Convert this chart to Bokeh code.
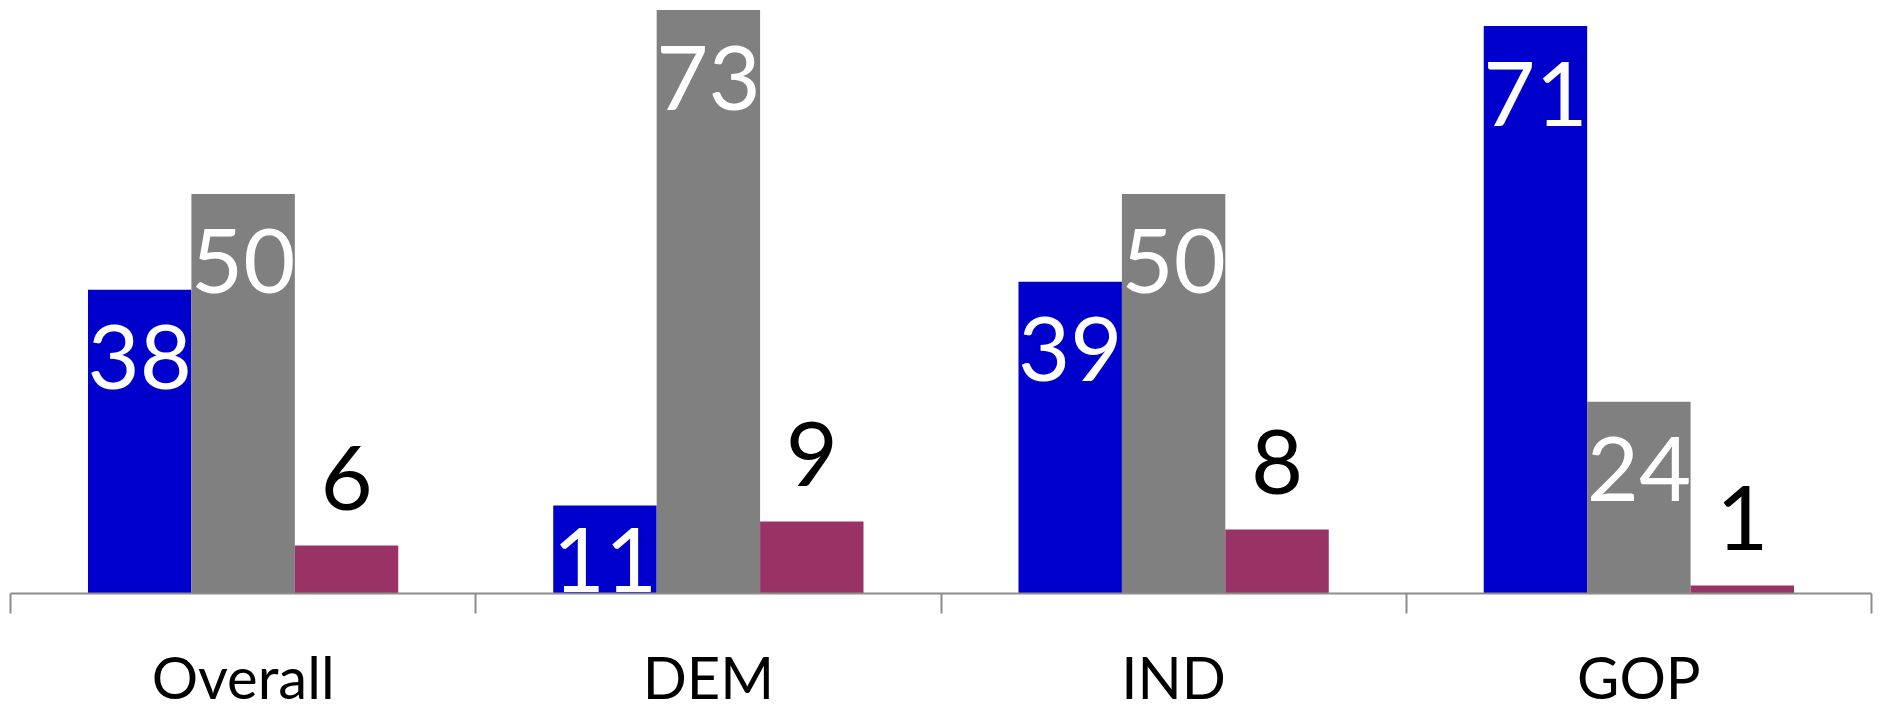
from bokeh.plotting import figure
from bokeh.models import ColumnDataSource, Range1d, FixedTicker, LinearAxis
from bokeh.core.properties import value
from bokeh.embed import file_html
from bokeh.resources import INLINE

# ---- data ----
categories = ["Overall", "DEM", "IND", "GOP"]
series_a = [38, 11, 39, 71]   # blue
series_b = [50, 73, 50, 24]   # gray
series_c = [6, 9, 8, 1]       # maroon

colors = ["#0000CC", "#808080", "#993366"]
label_colors = ["white", "white", "black"]

FRAME_W = 1861
FRAME_H = 585
Y_MAX = 73.2
PPU = FRAME_H / Y_MAX  # pixels per unit

BAR_W = 0.2223
offsets = [-BAR_W, 0.0, BAR_W]

p = figure(
    frame_width=FRAME_W, frame_height=FRAME_H,
    x_range=Range1d(0, len(categories)), y_range=Range1d(0, Y_MAX),
    output_backend="svg", toolbar_location=None,
    x_axis_type=None, y_axis_type=None,
    min_border_left=10, min_border_right=10, min_border_top=8, min_border_bottom=110,
    outline_line_color=None,
)
p.grid.visible = False
p.background_fill_color = "white"
p.border_fill_color = "white"

all_series = [series_a, series_b, series_c]
for s_idx, vals in enumerate(all_series):
    xs = [i + 0.5 + offsets[s_idx] for i in range(len(categories))]
    src = ColumnDataSource(dict(x=xs, top=vals))
    p.vbar(x="x", top="top", bottom=0, width=BAR_W, source=src,
           fill_color=colors[s_idx], line_color=None)

    texts = [str(v) for v in vals]
    if s_idx < 2:
        # inside the bar, near its top (kept within the bar)
        ys = [max(v - 67.5 / PPU, 34 / PPU) for v in vals]
    else:
        ys = [v + 67.5 / PPU for v in vals]
    lsrc = ColumnDataSource(dict(x=xs, y=ys, t=texts))
    p.text(x="x", y="y", text="t", source=lsrc,
           text_font=value("Lato"), text_font_size="90px",
           text_color=label_colors[s_idx], text_align="center",
           text_baseline="middle")

# x axis: category labels at centres, boundary ticks as minor ticks
xaxis = LinearAxis(
    ticker=FixedTicker(ticks=[i + 0.5 for i in range(len(categories))],
                       minor_ticks=list(range(len(categories) + 1))),
    major_label_overrides={i + 0.5: c for i, c in enumerate(categories)},
    axis_line_color="#8c8c8c", axis_line_width=2,
    major_tick_line_color=None, major_tick_out=0, major_tick_in=0,
    minor_tick_line_color="#8c8c8c", minor_tick_line_width=2,
    minor_tick_out=20, minor_tick_in=0,
    major_label_text_font="Lato", major_label_text_font_size="58px",
    major_label_text_color="black", major_label_standoff=28,
)
p.add_layout(xaxis, "below")

open("out.html", "w").write(file_html(p, INLINE))
